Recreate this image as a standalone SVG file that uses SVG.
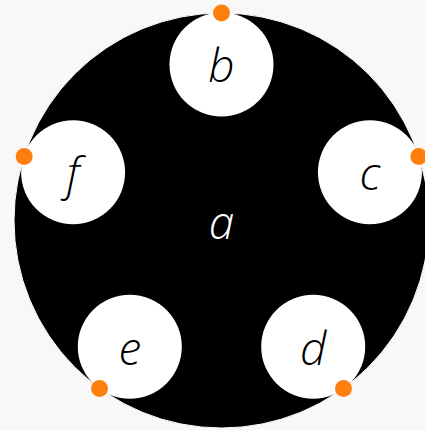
<svg xmlns="http://www.w3.org/2000/svg" width="425" height="430" viewBox="0 0 425 430">
<style>
.lbl{font-family:"Open Sans","Noto Sans",sans-serif;font-style:italic;font-weight:300;font-size:46px;text-anchor:middle}
.inner{fill:#ffffff}
.dot{fill:#ff7f0e}
</style>
<rect width="425" height="430" fill="#f8f8f8"/>
<g id="a">
<circle cx="221.5" cy="220.5" r="207.5" fill="#000000" stroke="#ffffff" stroke-width="1"/>
<text class="lbl" x="221.5" y="239" fill="#ffffff">a</text>
</g>
<g id="b">
<circle class="inner" cx="221.5" cy="64.5" r="52"/>
<text class="lbl" x="221.5" y="82">b</text>
</g>
<g id="c">
<circle class="inner" cx="369.9" cy="172.3" r="52"/>
<text class="lbl" x="369.9" y="190">c</text>
</g>
<g id="d">
<circle class="inner" cx="313.2" cy="346.7" r="52"/>
<text class="lbl" x="313.2" y="365">d</text>
</g>
<g id="e">
<circle class="inner" cx="129.8" cy="346.7" r="52"/>
<text class="lbl" x="129.8" y="365">e</text>
</g>
<g id="f">
<circle class="inner" cx="73.1" cy="172.3" r="52"/>
<text class="lbl" x="73.1" y="190">f</text>
</g>
<g id="connectors">
<circle class="dot" cx="221.5" cy="13" r="8.5"/>
<circle class="dot" cx="418.8" cy="156.4" r="8.5"/>
<circle class="dot" cx="343.5" cy="388.4" r="8.5"/>
<circle class="dot" cx="99.5" cy="388.4" r="8.5"/>
<circle class="dot" cx="24.2" cy="156.4" r="8.5"/>
</g>
</svg>
